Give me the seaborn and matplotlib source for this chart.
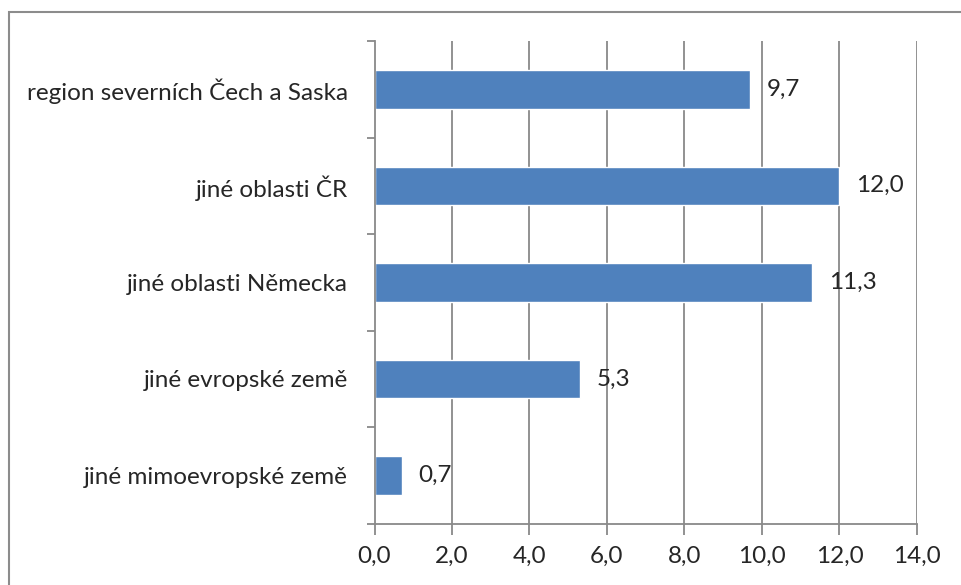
import matplotlib
matplotlib.use("Agg")
import matplotlib.pyplot as plt
import seaborn as sns
import pandas as pd
from matplotlib.patches import Rectangle
from matplotlib.ticker import FixedLocator

categories = ["region severních Čech a Saska", "jiné oblasti ČR", "jiné oblasti Německa",
              "jiné evropské země", "jiné mimoevropské země"]
values = [9.7, 12.0, 11.3, 5.3, 0.7]
x_ticks = [0, 2, 4, 6, 8, 10, 12, 14]

df = pd.DataFrame({"kategorie": categories, "hodnota": values})

sns.set_style("white")
plt.rcParams["font.family"] = ["Lato", "DejaVu Sans"]

fig = plt.figure(figsize=(9.62, 5.85), dpi=100)
ax = fig.add_axes([0.3893, 0.1048, 0.5639, 0.8251])

grid_col = "#898989"
fs = 17.5
ax.set_axisbelow(True)
for t in x_ticks[1:]:
    ax.axvline(t, color=grid_col, lw=1.3, zorder=0)

sns.barplot(data=df, x="hodnota", y="kategorie", orient="h", color="#4F81BD",
            width=0.4, saturation=1, ax=ax, zorder=2)

ax.set_xlim(0, 14)
ax.set_ylim(len(categories) - 0.5, -0.5)
ax.set_xticks(x_ticks)
ax.set_xticklabels([f"{t:.1f}".replace(".", ",") for t in x_ticks], fontsize=fs)
ax.set_yticks(range(len(categories)))
ax.set_yticklabels(categories, fontsize=fs)
ax.yaxis.set_minor_locator(FixedLocator([i - 0.5 for i in range(len(categories) + 1)]))
ax.tick_params(axis="y", which="major", length=0, pad=19)
ax.tick_params(axis="y", which="minor", length=6, width=1.3, color=grid_col, left=True)
ax.tick_params(axis="x", which="major", length=8, width=1.3, color=grid_col, bottom=True, pad=8)
ax.set_xlabel("")
ax.set_ylabel("")

for s in ["top", "right"]:
    ax.spines[s].set_visible(False)
for s in ["left", "bottom"]:
    ax.spines[s].set_color(grid_col)
    ax.spines[s].set_linewidth(1.3)

for i, v in enumerate(values):
    ax.annotate(f"{v:.1f}".replace(".", ","), xy=(v, i), xytext=(12, 0),
                textcoords="offset points", va="center", ha="left", fontsize=fs)

fig.patches.append(Rectangle((9 / 962, -0.1), 1.2, 1 - 12 / 585 + 0.1, transform=fig.transFigure,
                             fill=False, edgecolor="#8c8c8c", lw=1.5))

fig.savefig("out.png", dpi=100)
